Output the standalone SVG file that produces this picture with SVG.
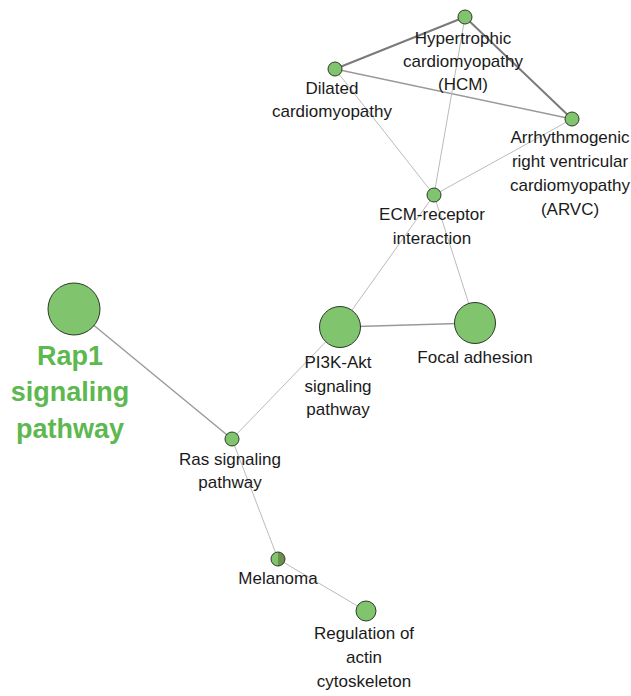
<svg xmlns="http://www.w3.org/2000/svg" width="631" height="696" viewBox="0 0 631 696">
<style>
.n{fill:#80c46e;stroke:#2d3a28;stroke-width:1}
.t{font-family:"Liberation Sans",Arial,sans-serif;font-size:17px;fill:#1a1a1a;text-anchor:middle}
.big{font-family:"Liberation Sans",Arial,sans-serif;font-size:27px;font-weight:bold;fill:#5db84f;text-anchor:middle}
.e1{stroke:#bbbbbb;stroke-width:1;fill:none}
.e2{stroke:#999999;stroke-width:1.4;fill:none}
.e3{stroke:#7a7a7a;stroke-width:2;fill:none}
</style>
<rect width="631" height="696" fill="#ffffff"/>
<g id="connectors">
<line class="e3" x1="465" y1="17" x2="335" y2="69"/>
<line class="e3" x1="465" y1="17" x2="572" y2="119"/>
<line class="e2" x1="335" y1="69" x2="572" y2="119"/>
<line class="e1" x1="465" y1="17" x2="434" y2="195"/>
<line class="e1" x1="335" y1="69" x2="434" y2="195"/>
<line class="e1" x1="572" y1="119" x2="434" y2="195"/>
<line class="e1" x1="434" y1="195" x2="340" y2="327"/>
<line class="e1" x1="434" y1="195" x2="475" y2="323"/>
<line class="e2" x1="340" y1="327" x2="475" y2="323"/>
<line class="e1" x1="340" y1="327" x2="232" y2="439"/>
<line class="e2" x1="74" y1="309" x2="232" y2="439"/>
<line class="e1" x1="232" y1="439" x2="278" y2="559"/>
<line class="e1" x1="278" y1="559" x2="366" y2="611"/>
</g>
<g id="hcm">
<circle class="n" cx="465" cy="17" r="7"/>
<text class="t"><tspan x="463" y="44">Hypertrophic</tspan><tspan x="463" y="67">cardiomyopathy</tspan><tspan x="463" y="90">(HCM)</tspan></text>
</g>
<g id="dilated">
<circle class="n" cx="335" cy="69" r="7"/>
<text class="t"><tspan x="332" y="94">Dilated</tspan><tspan x="332" y="117">cardiomyopathy</tspan></text>
</g>
<g id="arvc">
<circle class="n" cx="572" cy="119" r="7"/>
<text class="t"><tspan x="570" y="143">Arrhythmogenic</tspan><tspan x="570" y="167">right ventricular</tspan><tspan x="570" y="191">cardiomyopathy</tspan><tspan x="570" y="215">(ARVC)</tspan></text>
</g>
<g id="ecm">
<circle class="n" cx="434" cy="195" r="7"/>
<text class="t"><tspan x="432" y="220">ECM-receptor</tspan><tspan x="432" y="244">interaction</tspan></text>
</g>
<g id="pi3k">
<circle class="n" cx="340" cy="327" r="20.5"/>
<text class="t"><tspan x="338" y="368">PI3K-Akt</tspan><tspan x="338" y="392">signaling</tspan><tspan x="338" y="415">pathway</tspan></text>
</g>
<g id="focal">
<circle class="n" cx="475" cy="323" r="20.5"/>
<text class="t"><tspan x="475" y="363">Focal adhesion</tspan></text>
</g>
<g id="rap1">
<circle class="n" cx="74" cy="309" r="26"/>
<text class="big"><tspan x="70" y="365">Rap1</tspan><tspan x="70" y="401">signaling</tspan><tspan x="70" y="438">pathway</tspan></text>
</g>
<g id="ras">
<circle class="n" cx="232" cy="439" r="7"/>
<text class="t"><tspan x="230" y="465">Ras signaling</tspan><tspan x="230" y="488">pathway</tspan></text>
</g>
<g id="melanoma">
<path d="M278,552 A7,7 0 0,0 278,566 Z" fill="#80c46e"/>
<path d="M278,552 A7,7 0 0,1 278,566 Z" fill="#6a8f4f"/>
<circle cx="278" cy="559" r="7" fill="none" stroke="#2d3a28" stroke-width="1"/>
<text class="t"><tspan x="278" y="584">Melanoma</tspan></text>
</g>
<g id="regulation">
<circle class="n" cx="366" cy="611" r="10"/>
<text class="t"><tspan x="364" y="639">Regulation of</tspan><tspan x="364" y="663">actin</tspan><tspan x="364" y="687">cytoskeleton</tspan></text>
</g>
</svg>
